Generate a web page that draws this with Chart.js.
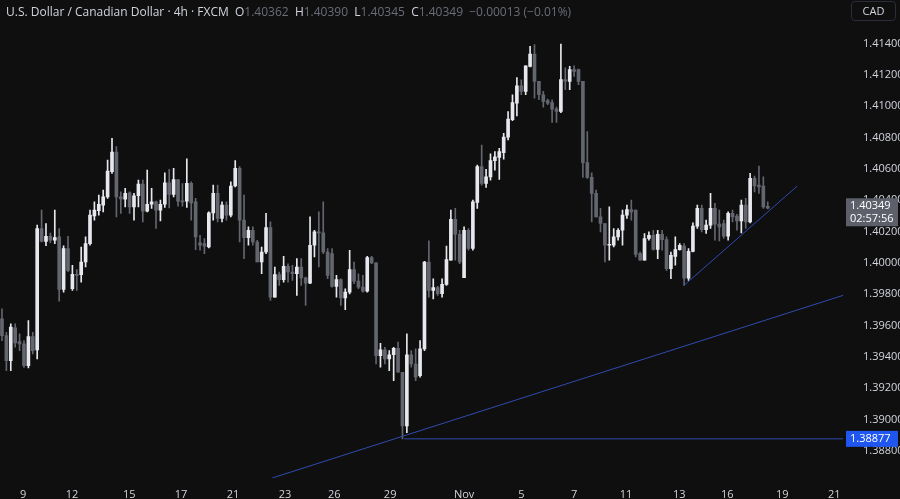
<!DOCTYPE html>
<html><head><meta charset="utf-8">
<script src="https://cdn.jsdelivr.net/npm/chart.js@4"></script>
<style>
html,body{margin:0;padding:0;background:#0f0f0f;}
#wrap{position:relative;width:900px;height:499px;}
#hdr{position:absolute;left:6px;top:3px;font:12px "Open Sans",Arial,sans-serif;color:#d1d4dc;white-space:pre;}
#hdr .v{color:#6a6d78;}
#cad{position:absolute;left:851px;top:1px;width:43px;height:18px;border:1px solid #2a2e39;border-radius:4px;color:#d1d4dc;font:11px "Open Sans",Arial,sans-serif;text-align:center;line-height:18px;}
</style></head>
<body><div id="wrap"><canvas id="c" width="900" height="499"></canvas>
<div id="hdr">U.S. Dollar / Canadian Dollar · 4h · FXCM  O<span class="v">1.40362</span>  H<span class="v">1.40390</span>  L<span class="v">1.40345</span>  C<span class="v">1.40349</span>  <span class="v">−0.00013 (−0.01%)</span></div>
<div id="cad">CAD</div></div>
<script>
const opens=[1.39643,1.39536,1.39376,1.39585,1.39498,1.39483,1.39344,1.39530,1.39445,1.40220,1.40138,1.40170,1.40145,1.40166,1.39831,1.40091,1.39835,1.39927,1.39925,1.40006,1.40123,1.40301,1.40333,1.40369,1.40422,1.40582,1.40708,1.40422,1.40407,1.40448,1.40358,1.40429,1.40503,1.40331,1.40375,1.40390,1.40337,1.40375,1.40512,1.40437,1.40533,1.40395,1.40395,1.40508,1.40390,
1.40128,1.40124,1.40102,1.40320,1.40444,1.40284,1.40369,1.40305,1.40491,1.40604,1.40273,1.40162,1.40209,1.40134,1.40006,1.40070,1.40226,1.39782,1.39925,1.39893,1.39978,1.39942,1.39931,1.39974,1.39905,1.39871,1.40113,1.40198,1.40192,1.40070,1.40060,1.39850,1.39893,1.39776,1.39814,1.39957,1.39884,1.39846,1.39820,1.40034,1.40000,1.39408,1.39445,1.39387,1.39414,1.39455,1.39302,1.38960,1.39414,1.39355,
1.39280,1.39451,1.40006,1.39825,1.39842,1.39804,1.39863,1.40017,1.40279,1.40183,1.39906,1.40209,1.40092,1.40386,1.40615,1.40508,1.40550,1.40653,1.40674,1.40704,1.40803,1.40914,1.41020,1.41131,1.41095,1.41255,1.41334,1.41159,1.41074,1.41037,1.41024,1.40982,1.40967,1.41170,1.41159,1.41234,1.41234,1.41159,1.40640,1.40546,1.40444,
1.40294,1.40252,1.40113,1.40113,1.40166,1.40209,1.40305,1.40341,1.40337,1.40060,1.40017,1.40156,1.40177,1.40087,1.40183,1.40149,1.39963,1.40042,1.40085,1.40107,1.39903,1.40074,1.40235,1.40348,1.40213,1.40241,1.40348,1.40248,1.40252,1.40171,1.40316,1.40299,1.40269,1.40369,1.40262,1.40540,1.40497,1.40491,1.40362];
const highs=[1.39707,1.39557,1.39611,1.39611,1.39547,1.39504,1.39632,1.39557,1.40241,1.40337,1.40252,1.40190,1.40337,1.40220,1.40110,1.40170,1.39985,1.39957,1.40102,1.40166,1.40337,1.40390,1.40433,1.40465,1.40657,1.40796,1.40743,1.40454,1.40476,1.40454,1.40444,1.40529,1.40529,1.40593,1.40476,1.40395,1.40401,1.40576,1.40597,1.40604,1.40533,1.40507,1.40664,1.40518,1.40412,
1.40177,1.40156,1.40326,1.40497,1.40497,1.40390,1.40390,1.40518,1.40653,1.40615,1.40433,1.40230,1.40230,1.40145,1.40102,1.40316,1.40262,1.39974,1.39942,1.40042,1.39995,1.39985,1.40028,1.40028,1.39910,1.40294,1.40209,1.40326,1.40390,1.40092,1.40092,1.39921,1.39899,1.39835,1.40081,1.40006,1.39931,1.39921,1.40042,1.40042,1.40000,1.39487,1.39462,1.39440,1.39462,1.39494,1.39302,1.39547,1.39440,1.39451,
1.39504,1.40010,1.40141,1.39899,1.39850,1.39899,1.40107,1.40337,1.40348,1.40209,1.40230,1.40220,1.40401,1.40625,1.40753,1.40597,1.40696,1.40711,1.40732,1.40828,1.40967,1.41074,1.41184,1.41169,1.41259,1.41383,1.41394,1.41159,1.41095,1.41046,1.41042,1.40995,1.41398,1.41245,1.41255,1.41259,1.41238,1.41159,1.40839,1.40576,1.40465,
1.40348,1.40252,1.40358,1.40220,1.40220,1.40337,1.40369,1.40401,1.40337,1.40070,1.40188,1.40198,1.40209,1.40209,1.40209,1.40166,1.40070,1.40166,1.40124,1.40124,1.40092,1.40256,1.40369,1.40369,1.40273,1.40444,1.40380,1.40337,1.40273,1.40326,1.40337,1.40311,1.40401,1.40412,1.40572,1.40555,1.40619,1.40550,1.40390];
const lows=[1.39504,1.39312,1.39312,1.39462,1.39440,1.39333,1.39329,1.39419,1.39387,1.40134,1.40110,1.40130,1.40123,1.39756,1.39814,1.39945,1.39824,1.39824,1.39878,1.39974,1.40113,1.40273,1.40305,1.40326,1.40412,1.40572,1.40294,1.40316,1.40358,1.40316,1.40273,1.40358,1.40262,1.40326,1.40348,1.40220,1.40269,1.40354,1.40352,1.40422,1.40363,1.40363,1.40354,1.40273,1.40085,
1.40081,1.40060,1.40096,1.40273,1.40262,1.40262,1.40273,1.40294,1.40486,1.40134,1.40028,1.40113,1.40113,1.40006,1.39931,1.40060,1.39761,1.39782,1.39857,1.39878,1.39878,1.39889,1.39793,1.39857,1.39729,1.39867,1.40038,1.39974,1.40060,1.39899,1.39846,1.39782,1.39729,1.39701,1.39803,1.39867,1.39835,1.39814,1.39814,1.39996,1.39355,1.39334,1.39355,1.39312,1.39248,1.39302,1.38877,1.38917,1.39334,1.39248,
1.39270,1.39440,1.39782,1.39771,1.39793,1.39782,1.39857,1.40017,1.40017,1.39995,1.39906,1.40081,1.40081,1.40348,1.40497,1.40482,1.40529,1.40593,1.40533,1.40662,1.40786,1.40909,1.40939,1.41074,1.41074,1.41251,1.41052,1.41042,1.40995,1.41010,1.40897,1.40897,1.40960,1.41106,1.41106,1.41191,1.41138,1.40546,1.40540,1.40262,1.40294,
1.40198,1.40006,1.40017,1.40102,1.40145,1.40113,1.40284,1.40273,1.40038,1.40017,1.40017,1.40145,1.40081,1.40028,1.40081,1.39953,1.39899,1.39985,1.40081,1.39857,1.39889,1.40070,1.40220,1.40198,1.40188,1.40220,1.40145,1.40141,1.40156,1.40145,1.40262,1.40209,1.40192,1.40220,1.40256,1.40454,1.40444,1.40348,1.40345];
const closes=[1.39536,1.39376,1.39590,1.39489,1.39483,1.39344,1.39530,1.39440,1.40220,1.40138,1.40170,1.40145,1.40162,1.39831,1.40091,1.39953,1.39927,1.39921,1.40006,1.40123,1.40305,1.40337,1.40375,1.40422,1.40587,1.40708,1.40422,1.40409,1.40444,1.40358,1.40429,1.40503,1.40331,1.40375,1.40390,1.40337,1.40375,1.40512,1.40437,1.40533,1.40395,1.40390,1.40508,1.40384,1.40166,
1.40113,1.40107,1.40320,1.40444,1.40284,1.40369,1.40305,1.40491,1.40604,1.40273,1.40162,1.40209,1.40134,1.40006,1.40070,1.40226,1.39782,1.39925,1.39893,1.39978,1.39942,1.39931,1.39974,1.39905,1.39871,1.40113,1.40198,1.40192,1.40070,1.39921,1.39850,1.39893,1.39776,1.39814,1.39957,1.39884,1.39846,1.39820,1.40034,1.40000,1.39408,1.39445,1.39387,1.39414,1.39455,1.39302,1.38960,1.39414,1.39355,1.39270,
1.39451,1.40006,1.39825,1.39842,1.39804,1.39863,1.40021,1.40279,1.40183,1.40006,1.40209,1.40092,1.40390,1.40615,1.40508,1.40550,1.40653,1.40678,1.40711,1.40803,1.40918,1.41024,1.41131,1.41095,1.41259,1.41334,1.41159,1.41074,1.41031,1.41020,1.40982,1.40967,1.41170,1.41160,1.41234,1.41223,1.41159,1.40640,1.40546,1.40444,1.40294,
1.40252,1.40113,1.40113,1.40166,1.40209,1.40305,1.40341,1.40326,1.40055,1.40017,1.40156,1.40177,1.40087,1.40183,1.40149,1.39963,1.40049,1.40085,1.40113,1.39903,1.40074,1.40235,1.40348,1.40213,1.40241,1.40348,1.40248,1.40230,1.40171,1.40316,1.40294,1.40269,1.40369,1.40262,1.40540,1.40491,1.40486,1.40358,1.40349];
const tickIdx=[4.8,15.9,28.9,40.7,52.5,64.3,75.5,88.2,105,118,130,141.8,153.9,164.8,177.3,189.1];
const tickLabels=['9','12','15','17','21','23','26','29','Nov','5','7','11','13','16','19','21'];
const longTrend=[{x:61.4,y:1.38627},{x:191.1,y:1.39793}];
const shortTrend=[{x:155.0,y:1.39857},{x:180.7,y:1.40491}];
const supportLevel=1.38877;
const supportStart=91.4;
const lastPrice=1.40349;

const up='#e6e8ee', dn='#63666f';
const col=opens.map((o,i)=>closes[i]>=o?up:dn);
const wicks=opens.map((o,i)=>({x:i,y:[lows[i],highs[i]]}));
const bodies=opens.map((o,i)=>({x:i,y:[Math.min(o,closes[i]),Math.max(o,closes[i])]}));

const tags={id:'tags',afterDraw(ch){
  const c=ch.ctx,y=ch.scales.y,ca=ch.chartArea;
  const x0=ca.right+3;
  let py=y.getPixelForValue(lastPrice);
  c.save();
  c.fillStyle='#5d606b';c.fillRect(x0,py-10,52,28);
  c.fillStyle='#ffffff';c.font='11px "Open Sans",Arial';c.textAlign='left';c.textBaseline='middle';
  c.fillText('1.40349',x0+4,py-2);c.fillText('02:57:56',x0+4,py+11);
  py=y.getPixelForValue(supportLevel);
  c.fillStyle='#1f56f0';c.fillRect(x0,py-8,52,16);
  c.fillStyle='#ffffff';c.fillText('1.38877',x0+4,py);
  c.restore();
}};
new Chart(document.getElementById('c'),{
 type:'bar',
 data:{datasets:[
  {type:'line',data:longTrend,borderColor:'#2f4bb0',borderWidth:1,pointRadius:0,order:0},
  {type:'line',data:shortTrend,borderColor:'#2f4bb0',borderWidth:1,pointRadius:0,order:0},
  {type:'line',data:[{x:supportStart,y:supportLevel},{x:191.1,y:supportLevel}],borderColor:'#2f4bb0',borderWidth:1,pointRadius:0,order:0},
  {data:wicks,backgroundColor:col,barThickness:1,grouped:false,order:2},
  {data:bodies,backgroundColor:col,barThickness:3,minBarLength:1,grouped:false,order:1}
 ]},
 options:{responsive:false,animation:false,events:[],
  layout:{padding:0},
  plugins:{legend:{display:false},tooltip:{enabled:false}},
  scales:{
   x:{type:'linear',offset:false,min:-0.45,max:191.1,grid:{display:false},border:{display:false},
      afterBuildTicks(a){a.ticks=tickIdx.map(v=>({value:v}));},
      afterFit(a){a.height=21;},
      ticks:{autoSkip:false,maxRotation:0,color:'#d1d4dc',font:{size:11,family:'"Open Sans",Arial'},padding:2,
        callback(v){const k=tickIdx.indexOf(v);return k>=0?tickLabels[k]:'';}}},
   y:{position:'right',min:1.38627,max:1.41560,grid:{display:false},border:{display:false},
      afterBuildTicks(a){const t=[];for(let k=0;k<=13;k++)t.push({value:+(1.388+k*0.002).toFixed(3)});a.ticks=t;},
      afterFit(a){a.width=57;},
      ticks:{color:'#d1d4dc',font:{size:11,family:'"Open Sans",Arial'},padding:12,callback:v=>v.toFixed(5)}}
  }},
 plugins:[tags]
});
</script></body></html>
